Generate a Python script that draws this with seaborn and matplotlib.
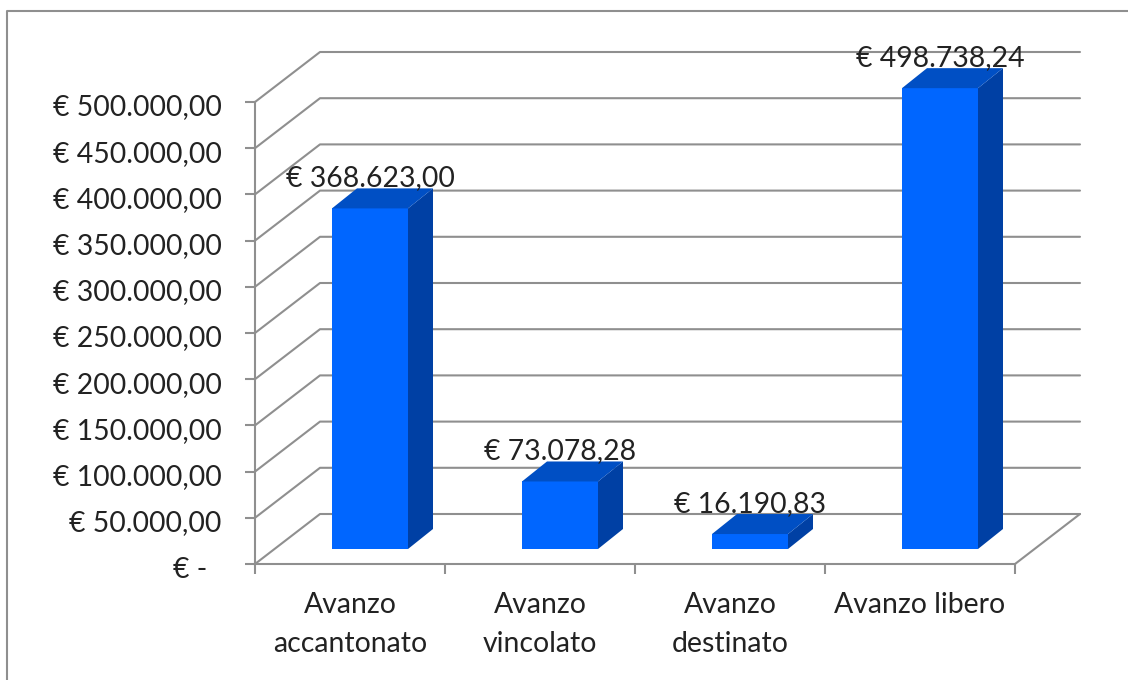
import pandas as pd
import seaborn as sns
from matplotlib import pyplot as plt
from matplotlib.lines import Line2D
from matplotlib.patches import Polygon
from matplotlib.transforms import Affine2D

categorie = ['Avanzo\naccantonato', 'Avanzo\nvincolato', 'Avanzo\ndestinato', 'Avanzo libero']
valori = [368623.00, 73078.28, 16190.83, 498738.24]
etichette = ['€ 368.623,00', '€ 73.078,28', '€ 16.190,83', '€ 498.738,24']
tick_y = [0, 50000, 100000, 150000, 200000, 250000, 300000, 350000, 400000, 450000, 500000]
tick_y_label = ['€ -\u00a0\u00a0', '€ 50.000,00', '€ 100.000,00', '€ 150.000,00', '€ 200.000,00',
                '€ 250.000,00', '€ 300.000,00', '€ 350.000,00', '€ 400.000,00', '€ 450.000,00',
                '€ 500.000,00']

GRIGIO = '#8f8f8f'
TESTO = '#222222'
FONT = 20.4
W, H = 1128, 680
# area del piano frontale in pixel
X0, X1, Y0, Y1 = 255, 1015, 564, 102

sns.set_style('white')
plt.rcParams['font.family'] = ['Lato', 'DejaVu Sans']

# pixel -> unità dei dati
px_x = 4 / (X1 - X0)
px_y = 500000 / (Y0 - Y1)
parete_x, parete_y = 65 * px_x, 50 * px_y
shift_x, shift_y = 20 * px_x, 15 * px_y
prof_x, prof_y = 25 * px_x, 20 * px_y

fig = plt.figure(figsize=(W / 100, H / 100), dpi=100)
ax = fig.add_axes([X0 / W, 1 - Y0 / H, (X1 - X0) / W, (Y0 - Y1) / H])

df = pd.DataFrame({'categoria': categorie, 'valore': valori})
sns.barplot(data=df, x='categoria', y='valore', color='#0066ff', saturation=1, width=0.4,
            linewidth=0, ax=ax, zorder=3)

ax.set_xlim(-0.5, 3.5)
ax.set_ylim(0, 500000)
ax.set_xlabel('')
ax.set_ylabel('')

# griglia: piano laterale + parete di fondo
for v in tick_y:
    ax.plot([-0.5, -0.5 + parete_x, 3.5 + parete_x], [v, v + parete_y, v + parete_y],
            color=GRIGIO, lw=1.5, clip_on=False, zorder=1)
ax.plot([3.5, 3.5 + parete_x], [0, parete_y], color=GRIGIO, lw=1.5, clip_on=False, zorder=1)

# finto 3D: facce laterali e superiori delle barre
for p, testo in zip(ax.patches, etichette):
    p.set_x(p.get_x() + shift_x)
    p.set_y(shift_y)
    p.set_clip_on(False)
    x, b, w, h = p.get_x(), p.get_y(), p.get_width(), p.get_height()
    lato = [(x + w, b), (x + w + prof_x, b + prof_y), (x + w + prof_x, b + h + prof_y), (x + w, b + h)]
    sopra = [(x, b + h), (x + prof_x, b + h + prof_y), (x + w + prof_x, b + h + prof_y), (x + w, b + h)]
    ax.add_patch(Polygon(lato, facecolor='#0040a4', linewidth=0, clip_on=False, zorder=3))
    ax.add_patch(Polygon(sopra, facecolor='#004fc4', linewidth=0, clip_on=False, zorder=3))
    ax.text(x + w / 2, b + h + prof_y + 2 * px_y, testo, ha='center', va='baseline',
            fontsize=FONT, color=TESTO, zorder=5)

ax.set_yticks(tick_y)
ax.set_yticklabels(tick_y_label)
ax.set_xticks([0, 1, 2, 3])
ax.set_xticklabels(categorie, linespacing=1.65)
ax.set_xticks([-0.5, 0.5, 1.5, 2.5, 3.5], minor=True)
ax.tick_params(axis='y', left=True, length=7.2, width=1.5, color=GRIGIO, pad=17, labelsize=FONT, labelcolor=TESTO)
ax.tick_params(axis='x', which='major', bottom=False, length=0, pad=20, labelsize=FONT, labelcolor=TESTO)
ax.tick_params(axis='x', which='minor', bottom=True, length=7.2, width=1.5, color=GRIGIO)

# le etichette y stanno un po' più in basso delle tacche
for t in ax.get_yticklabels():
    t.set_transform(t.get_transform() + Affine2D().translate(0, -3))

sns.despine(ax=ax)
for lato_ax in ['left', 'bottom']:
    ax.spines[lato_ax].set_color(GRIGIO)
    ax.spines[lato_ax].set_linewidth(1.5)

# bordo del grafico, solo sopra e a sinistra
fig.add_artist(Line2D([7 / W, 7 / W, 1], [0, 1 - 11 / H, 1 - 11 / H], color=GRIGIO, lw=1.5))

fig.savefig('out.png', dpi=100, facecolor='white')
